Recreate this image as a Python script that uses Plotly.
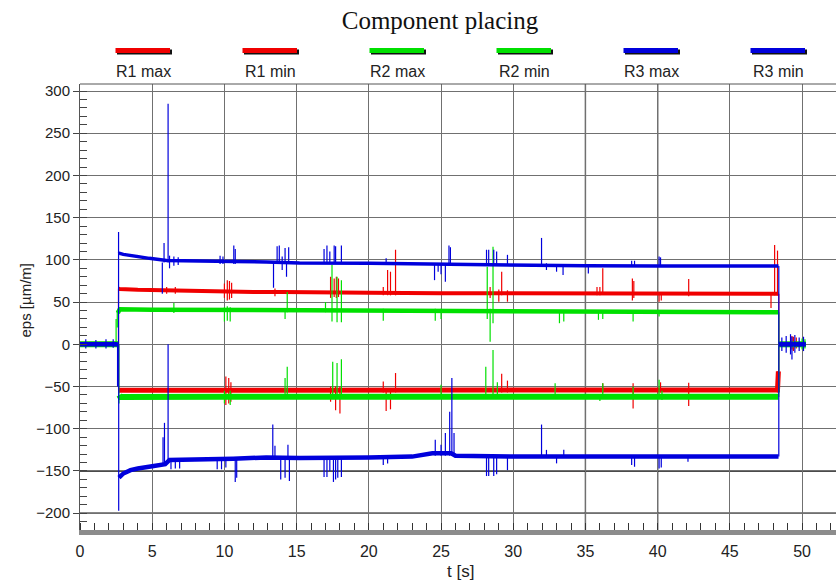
import plotly.graph_objects as go

# ---------------- data ----------------
series_names = ["R1 max", "R1 min", "R2 max", "R2 min", "R3 max", "R3 min"]

# slowly varying level of each signal (None = gap at a step change)
r1max_t = [0, 2.66, None, 2.67, 2.75, 4, 6, 8, 10, 12, 14, 16, 20, 25, 30, 35, 40, 45, 48.37, None, 48.41, 50.25]
r1max_y = [0, 0, None, 66, 65.5, 64.5, 63.6, 63, 62.5, 62, 62, 61.5, 61, 60.5, 60.3, 60.3, 60.2, 60, 60, None, 0, 0]

r1min_t = [0, 2.66, None, 2.68, 2.8, 10, 20, 30, 40, 48.3, 48.36, None, 48.41, 50.25]
r1min_y = [0, 0, None, -54.5, -54.5, -54, -53.5, -53.5, -54, -54, -32, None, 0, 0]

r2max_t = [0, 2.45, None, 2.62, 2.75, 5, 10, 15, 20, 25, 30, 35, 40, 48.37, None, 48.41, 50.25]
r2max_y = [0, 0, None, 37, 41.4, 41, 40.6, 40.3, 40.5, 40.3, 39.5, 38.5, 38, 38, None, 0, 0]

r2min_t = [0, 2.66, None, 2.72, 2.8, 10, 20, 30, 40, 48.37, None, 48.41, 50.25]
r2min_y = [0, 0, None, -60, -62.5, -62, -62, -62, -62, -62, None, 0, 0]

r3max_t = [0, 2.64, None, 2.68, 2.75, 3.0, 3.6, 4.8, 6.0, 8.3, 10.6, 12.9, 15.2, 20, 24, 26, 30, 35, 40, 45,
           48.37, None, 48.41, 50.25]
r3max_y = [0, 0, None, 107, 107.8, 106.5, 104.6, 101.8, 99.4, 98.3, 98, 97.6, 96.4, 96, 95, 95, 93.5, 93, 92.7,
           92.7, 92.7, None, 0, 0]

r3min_t = [0, 2.58, None, 2.7, 2.8, 3.0, 3.5, 4.0, 5.0, 5.9, 6.2, 8.3, 10.6, 12.9, 15.2, 20, 23, 24.4, 25.7,
           26.0, 30, 48.37, None, 48.41, 50.25]
r3min_y = [0, 0, None, -158, -156, -153, -149, -147, -144.5, -142, -137, -136.5, -135.5, -134, -134.5, -134,
           -133, -129, -129, -132, -133, -133, None, 0, 0]

# short excursions and step edges: (time, low, high)
r1max_spk = [(2.665, 0, 66), (48.39, 0, 60),
             (6.0, 60, 68), (6.6, 60, 68), (10.0, 55, 72), (10.2, 52, 76), (10.35, 53, 75), (10.5, 55, 73),
             (13.5, 57, 66), (17.35, 55, 80), (17.6, 56, 78), (17.75, 55, 80), (17.9, 56, 78),
             (21.0, 58, 68), (21.3, 58, 88), (21.5, 58, 86), (21.85, 58, 112), (28.4, 55, 68),
             (29.0, 50.5, 65), (29.2, 58, 86), (29.6, 50.5, 64), (35.8, 58, 68), (36.0, 58, 68),
             (36.2, 59, 90), (38.25, 52, 78), (38.35, 55, 75), (40.1, 50.5, 62), (40.25, 52, 62),
             (42.15, 57, 77.5), (47.85, 43, 62), (48.1, 58, 117.6), (48.3, 58, 111),
             (49.3, -6, 10), (49.6, -5, 8)]
r1min_spk = [(2.67, -55, 0), (48.385, -32, 0),
             (10.1, -72, -38), (10.3, -70, -40), (10.45, -68, -45), (17.35, -68, -50), (17.7, -78, -50),
             (18.0, -82, -50), (21.0, -57, -44), (21.2, -79, -52), (21.5, -77, -52), (21.85, -57, -34),
             (29.2, -57, -35), (29.6, -57, -43), (36.2, -57, -46), (38.3, -76, -46), (40.2, -57, -45),
             (42.15, -73, -45.6), (48.3, -57, -32), (49.4, -8, 9)]
r2max_spk = [(2.5, 0, 30), (2.58, 20, 40), (48.39, 0, 38),
             (6.5, 37, 49), (10.0, 27, 44), (10.2, 28, 45), (10.4, 27, 44), (14.2, 30, 42), (14.35, 38, 62),
             (17.0, 38, 50), (17.45, 27, 94), (17.8, 26, 80), (18.1, 26, 76), (21.0, 28, 42),
             (24.6, 28, 42), (25.0, 30, 42), (28.2, 30, 92), (28.4, 3, 42), (28.6, 25, 115.6),
             (33.2, 25, 40), (33.5, 27, 40), (35.9, 29, 40), (36.2, 30, 40), (38.3, 27, 40), (40.1, 33, 40),
             (50.0, -6, 7), (50.2, -5, 6)]
r2min_spk = [(2.69, -63, 0), (48.39, -62.5, 0),
             (2.7, -70, -60), (10.0, -70, -55), (10.4, -72, -55), (14.2, -62, -40), (14.35, -62, -26.5),
             (17.5, -62, -20.6), (17.8, -62, -22), (18.1, -62, -17.8), (25.0, -62, -48), (28.1, -62, -26.5),
             (28.6, -62, -6.7), (28.9, -62, -45), (32.9, -62, -46), (36.0, -67, -60), (36.2, -62, -46),
             (38.3, -62, -50), (40.1, -62, -42), (40.3, -66, -55)]
r3max_spk = [(2.67, 0, 133), (48.39, 0, 92.7),
             (5.7, 60, 97), (5.82, 97, 120), (6.1, 97, 285), (6.2, 90, 105), (6.5, 93, 104),
             (6.8, 94, 103), (9.7, 95, 105), (9.9, 95, 104), (10.65, 95, 117), (10.75, 95, 113),
             (13.4, 67, 97), (13.65, 96, 116), (13.8, 96, 117), (14.0, 88, 104), (14.2, 96, 114),
             (14.3, 80, 97), (14.45, 96, 115), (16.9, 96, 113), (17.1, 96, 117), (17.3, 96, 110),
             (17.6, 96, 117), (17.7, 96, 116), (18.1, 96, 117), (21.2, 95, 102), (24.55, 76, 96),
             (24.8, 86, 96), (25.0, 83, 96), (25.3, 74, 96), (25.55, 96, 117), (25.65, 96, 115),
             (28.15, 95, 112), (28.3, 95, 112), (28.65, 95, 112), (28.85, 95, 110), (29.6, 95, 106),
             (31.96, 93, 126), (32.3, 88, 96), (33.0, 86, 94), (33.45, 82, 94), (35.2, 84, 93),
             (38.2, 92, 99), (38.4, 92, 99), (40.1, 92, 104), (40.2, 92, 103),
             (0.4, -5, 6), (1.1, -5, 5), (1.8, -5, 6), (2.3, -4, 6)]
r3min_spk = [(2.6, -50, 0), (2.68, -197, 0), (48.39, -133, 0),
             (5.75, -142, -110), (5.85, -142, -93), (6.1, -140, 0), (6.3, -148, -135),
             (6.6, -147, -135), (6.9, -147, -135), (9.5, -148, -134), (9.8, -148, -134), (10.1, -146, -134),
             (10.75, -163, -134), (10.85, -158, -134), (13.35, -134, -95), (13.5, -134, -120),
             (13.9, -160, -133), (14.2, -158, -133), (14.4, -133, -119), (14.5, -162, -133),
             (16.9, -157, -134), (17.1, -157, -134), (17.3, -150, -134), (17.55, -163, -134),
             (17.7, -160, -134), (17.85, -158, -134), (18.1, -157, -134), (21.0, -143, -133),
             (21.3, -141, -133), (24.6, -132, -113), (25.0, -132, -119), (25.3, -132, -105),
             (25.6, -132, -80), (25.75, -132, -40), (25.9, -132, -105), (28.15, -156, -132),
             (28.3, -156, -132), (28.65, -156, -132), (28.85, -154, -132), (29.6, -149, -132),
             (31.96, -133, -95), (32.3, -133, -125), (33.0, -141, -133), (33.5, -133, -125),
             (38.2, -143, -133), (38.4, -145, -133), (40.1, -147, -133), (40.25, -146, -133),
             (42.1, -139, -133), (48.6, -8, 8), (48.9, -10, 10), (49.2, -12, 12), (49.3, -18, 9),
             (49.5, -10, 11), (49.8, -8, 8), (50.1, -8, 9)]

x_tick_vals = [0, 5, 10, 15, 20, 25, 30, 35, 40, 45, 50]
y_tick_vals = [-200, -150, -100, -50, 0, 50, 100, 150, 200, 250, 300]

# ---------------- styles ----------------
RED, GREEN, BLUE = "#f00000", "#00e000", "#0000dc"
colors = [RED, RED, GREEN, GREEN, BLUE, BLUE]
base_widths = [4, 5, 4.5, 6, 3.5, 4.5]

bases = [(r1max_t, r1max_y), (r1min_t, r1min_y), (r2max_t, r2max_y),
         (r2min_t, r2min_y), (r3max_t, r3max_y), (r3min_t, r3min_y)]
spikes = [r1max_spk, r1min_spk, r2max_spk, r2min_spk, r3max_spk, r3min_spk]

fig = go.Figure()
for name, col, w, (bt, by), spk in zip(series_names, colors, base_widths, bases, spikes):
    fig.add_trace(go.Scatter(x=bt, y=by, mode="lines", name=name, showlegend=False,
                             line=dict(color=col, width=w)))
    sx, sy = [], []
    for t, lo, hi in spk:
        sx += [t, t, None]
        sy += [lo, hi, None]
    fig.add_trace(go.Scatter(x=sx, y=sy, mode="lines", name=name + " peaks", showlegend=False,
                             line=dict(color=col, width=1.2)))

# body margin is removed in the page (post_script), so figure coords = window coords
W, H = 836, 584
L, R, T, B = 80, 0, 84, 54
pw, ph = W - L - R, H - T - B


def px(xw):
    return (xw - L) / pw


def py(yw):
    return (H - B - yw) / ph


shapes = []
annotations = []
# custom legend: line swatch above label
leg_centers = [143, 270, 397, 524, 651, 778]
for cx, name, col in zip(leg_centers, series_names, colors):
    shapes.append(dict(type="rect", xref="paper", yref="paper",
                       x0=px(cx - 26), x1=px(cx + 29), y0=py(54.5), y1=py(49.5),
                       fillcolor="#111", line=dict(width=0), layer="above"))
    shapes.append(dict(type="rect", xref="paper", yref="paper",
                       x0=px(cx - 27.5), x1=px(cx + 27), y0=py(53), y1=py(48),
                       fillcolor=col, line=dict(width=0), layer="above"))
    annotations.append(dict(text=name, xref="paper", yref="paper", x=px(cx), y=py(72),
                            showarrow=False, xanchor="center", yanchor="middle",
                            font=dict(family="Liberation Sans, Arial", size=16, color="#222")))

# darker grid lines seen in the reference
for xv in [35, 40]:
    shapes.append(dict(type="line", xref="x", yref="paper", x0=xv, x1=xv, y0=0, y1=1,
                       line=dict(color="#111", width=1.3), layer="below"))
for yv in [-150, -200]:
    shapes.append(dict(type="line", xref="paper", yref="y", x0=0, x1=1, y0=yv, y1=yv,
                       line=dict(color="#111", width=1.3), layer="below"))
# top border
shapes.append(dict(type="line", xref="paper", yref="paper", x0=0, x1=1, y0=1, y1=1,
                   line=dict(color="#555", width=1)))

annotations.append(dict(text="eps [µm/m]", xref="paper", yref="paper", x=px(24.5), y=py(300),
                        textangle=-90, showarrow=False, xanchor="center", yanchor="middle",
                        font=dict(family="Liberation Sans, Arial", size=15, color="#222")))
annotations.append(dict(text="t [s]", xref="paper", yref="paper", x=px(460), y=py(571),
                        showarrow=False, xanchor="center", yanchor="middle",
                        font=dict(family="Liberation Sans, Arial", size=17, color="#222")))

fig.update_layout(
    width=W, height=H,
    margin=dict(l=L, r=R, t=T, b=B, pad=0, autoexpand=False),
    paper_bgcolor="white", plot_bgcolor="white",
    title=dict(text="Component placing", x=440 / W, xref="container", xanchor="center",
               y=1 - 20 / H, yref="container", yanchor="middle",
               font=dict(family="Liberation Serif, Times New Roman", size=25, color="#111")),
    shapes=shapes, annotations=annotations,
    showlegend=False,
    xaxis=dict(range=[0, 52.35], tickvals=x_tick_vals, ticks="", showgrid=True, automargin=False,
               gridcolor="#707070", gridwidth=1, zeroline=False,
               showline=True, linecolor="#8c8c8c", linewidth=5,
               tickfont=dict(family="Liberation Sans, Arial", size=16, color="#222"),
               ticklabelstandoff=3,
               minor=dict(dtick=1, ticks="inside", ticklen=7, tickcolor="#333",
                          tickwidth=1, showgrid=False)),
    yaxis=dict(range=[-219.9, 308.3], tickvals=y_tick_vals, ticks="outside", ticklen=6, automargin=False,
               tickcolor="#444", showgrid=True, gridcolor="#707070", gridwidth=1,
               zeroline=False, showline=True, linecolor="#555", linewidth=1,
               tickfont=dict(family="Liberation Sans, Arial", size=15, color="#222"),
               minor=dict(dtick=10, ticks="inside", ticklen=7, tickcolor="#444", tickwidth=1,
                          showgrid=False)),
)

fig.write_html("out.html",
               config={"displayModeBar": False},
               post_script="document.body.style.margin='0';document.body.style.overflow='hidden';")
